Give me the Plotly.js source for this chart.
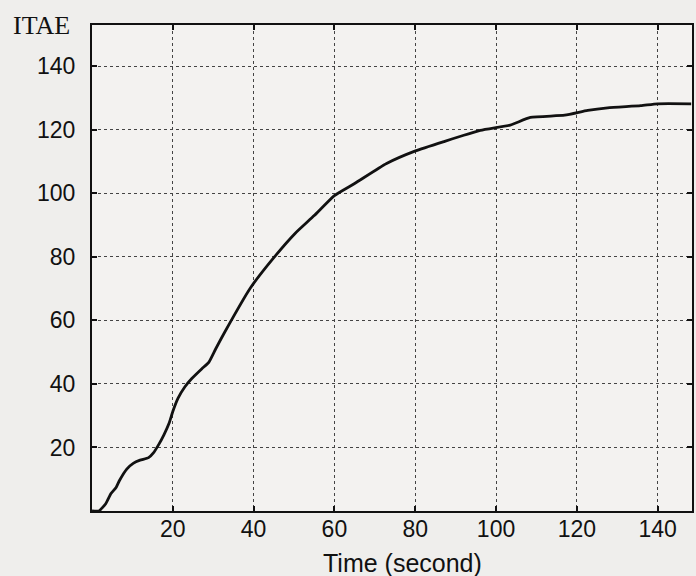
<!DOCTYPE html>
<html>
<head>
<meta charset="utf-8">
<script src="https://cdn.plot.ly/plotly-3.0.1.min.js"></script>
<style>html,body{margin:0;padding:0;background:#efeeec;}</style>
</head>
<body>
<div id="chart" style="width:696px;height:576px;"></div>
<script>
// Data
var timeSec = [0, 1.7, 3.4, 4.7, 6.0, 6.8, 8.6, 10.2, 11.9, 14.0, 15.2, 16.5, 17.8, 19.1, 20.0, 21.3, 23.0, 24.7, 27.2, 28.9, 30.6, 32.8, 39.2, 45.1, 50.2, 55.0, 60.0, 65.0, 72.9, 79.9, 87.1, 96.1, 103.5, 108.5, 117.0, 122.7, 127.6, 135.8, 140.0, 148.3];
var itae    = [0, 0, 2.3, 5.5, 7.5, 9.6, 13.2, 15.0, 16.0, 16.8, 18.3, 20.9, 24.0, 27.7, 31.3, 35.5, 39.1, 41.7, 44.8, 46.8, 51.0, 56.2, 70.2, 79.9, 87.3, 93.0, 99.3, 103.1, 109.4, 113.3, 116.3, 119.8, 121.5, 123.9, 124.6, 126.1, 126.9, 127.6, 128.2, 128.2];
var xTicks = [20, 40, 60, 80, 100, 120, 140];
var yTicks = [20, 40, 60, 80, 100, 120, 140];

var trace = {
  x: timeSec, y: itae, type: 'scatter', mode: 'lines',
  line: {color: '#111', width: 2.8, shape: 'spline', smoothing: 0.5},
  hoverinfo: 'skip'
};

var axisCommon = {
  showline: true, linecolor: '#111', linewidth: 2, mirror: 'allticks',
  ticks: 'inside', ticklen: 5, tickwidth: 2, tickcolor: '#111',
  showgrid: true, gridcolor: '#444', gridwidth: 1, griddash: 'dot',
  zeroline: false,
  tickfont: {family: 'Liberation Sans, Arial, sans-serif', size: 23, color: '#111'}
};

var layout = {
  width: 696, height: 576,
  paper_bgcolor: '#efeeec', plot_bgcolor: '#f3f2f0',
  margin: {l: 92, r: 4, t: 25, b: 65},
  showlegend: false,
  xaxis: Object.assign({}, axisCommon, {
    range: [0, 148.5], tickvals: xTicks, ticktext: xTicks.map(String),
    ticklabelstandoff: -4
  }),
  yaxis: Object.assign({}, axisCommon, {
    range: [0, 153], tickvals: yTicks, ticktext: yTicks.map(String),
    ticklabelstandoff: 10
  }),
  annotations: [{
    text: 'ITAE', xref: 'paper', yref: 'paper', x: -0.135, y: 1.0,
    xanchor: 'left', yanchor: 'middle', showarrow: false,
    font: {family: 'Liberation Serif, Times New Roman, serif', size: 26, color: '#111'}
  }, {
    text: 'Time (second)', xref: 'paper', yref: 'paper', x: (402 - 92) / 600, y: -0.107,
    xanchor: 'center', yanchor: 'middle', showarrow: false,
    font: {family: 'Liberation Sans, Arial, sans-serif', size: 25, color: '#111'}
  }]
};

Plotly.newPlot('chart', [trace], layout, {displayModeBar: false, staticPlot: true});
</script>
</body>
</html>
